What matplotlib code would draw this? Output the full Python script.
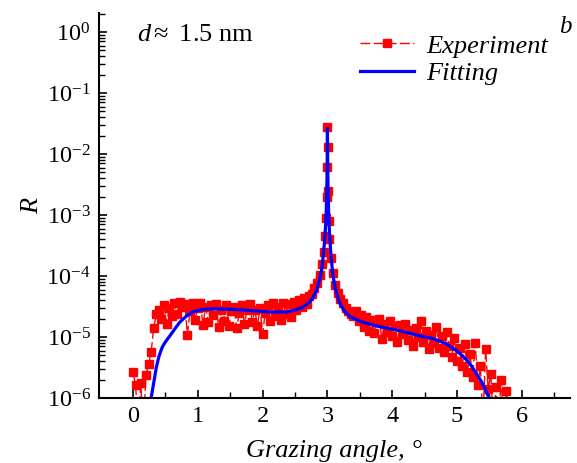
import numpy as np
import matplotlib.pyplot as plt

plt.rcParams['font.family'] = 'Liberation Serif'
plt.rcParams['mathtext.fontset'] = 'custom'
plt.rcParams['mathtext.rm'] = 'Liberation Serif'
plt.rcParams['mathtext.it'] = 'Liberation Serif:italic'

# measured reflectivity, log10(R); low-angle part on a 0.04 deg grid
exp_lo = [-5.58, -5.78, -6.5, -5.76, -6.5, -5.62, -5.45, -5.25, -4.85, -4.62,
          -4.55, -4.70, -4.48, -4.78, -4.52, -4.66, -4.45, -4.62, -4.42, -4.50,
          -4.46, -4.96, -4.58, -4.45, -4.72, -4.52, -4.44, -4.80, -4.50, -4.76,
          -4.48, -4.64, -4.46, -4.84, -4.55, -4.74, -4.47, -4.82, -4.58, -4.50,
          -4.86, -4.60, -4.48, -4.78, -4.56, -4.46, -4.76, -4.55, -4.82, -4.52,
          -4.95, -4.60, -4.48, -4.74, -4.45, -4.66, -4.50, -4.72, -4.44, -4.62,
          -4.46, -4.68, -4.42, -4.56, -4.40, -4.50, -4.36, -4.46, -4.32, -4.30,
          -4.20, -4.12, -3.98, -3.80]
# fine steps around the Bragg peak
exp_pk_x = [2.95, 2.97, 2.98, 2.99, 2.995, 3.0, 3.005, 3.01, 3.02, 3.03, 3.05]
exp_pk = [-3.60, -3.35, -3.05, -2.70, -2.22, -1.55, -1.88, -2.60, -3.10, -3.40, -3.70]
# high-angle part, 0.04 deg grid from 3.08
exp_hi = [-3.95, -4.15, -4.28, -4.38, -4.45, -4.52, -4.58, -4.62, -4.66, -4.58,
          -4.74, -4.64, -4.84, -4.68, -4.90, -4.72, -4.94, -4.76, -4.70, -5.04,
          -4.78, -4.92, -4.74, -4.98, -4.82, -5.08, -4.80, -4.95, -4.78, -5.05,
          -4.88, -5.14, -4.85, -5.00, -4.74, -5.08, -4.90, -5.20, -4.96, -5.10,
          -4.84, -5.18, -4.98, -5.25, -4.92, -5.14, -5.32, -5.02, -5.40, -5.18,
          -5.48, -5.12, -5.58, -5.28, -5.66, -5.10, -5.78, -5.48, -6.40, -5.20,
          -5.85, -5.60, -6.40, -5.82, -6.40, -5.70, -6.40, -5.88, -6.40]

# model curve
fit_x = [0.28, 0.32, 0.36, 0.40, 0.45, 0.50, 0.57, 0.65, 0.72, 0.82, 0.92,
         1.03, 1.14, 1.34, 1.60, 1.85, 2.10, 2.37, 2.50, 2.62, 2.70, 2.77,
         2.83, 2.88, 2.91, 2.93, 2.95, 2.97, 2.98, 2.99, 2.995, 3.0, 3.005,
         3.01, 3.02, 3.03, 3.05, 3.08, 3.12, 3.18, 3.25, 3.34, 3.50, 3.65,
         3.80, 4.00, 4.20, 4.42, 4.60, 4.72, 4.82, 4.92, 5.03, 5.14, 5.22,
         5.29, 5.37, 5.44, 5.49, 5.52]
fit_lg = [-6.0, -5.75, -5.50, -5.32, -5.17, -5.08, -4.98, -4.86, -4.76, -4.66,
          -4.59, -4.56, -4.54, -4.54, -4.55, -4.57, -4.59, -4.59, -4.56, -4.51,
          -4.45, -4.37, -4.24, -4.06, -3.90, -3.72, -3.50, -3.20, -2.98, -2.60,
          -2.25, -1.58, -2.25, -2.60, -3.00, -3.25, -3.60, -3.95, -4.20, -4.42,
          -4.56, -4.66, -4.74, -4.79, -4.83, -4.87, -4.92, -4.98, -5.02, -5.06,
          -5.11, -5.17, -5.26, -5.37, -5.47, -5.59, -5.72, -5.87, -5.99, -6.10]

x_exp = np.concatenate([np.round(0.04 * np.arange(len(exp_lo)), 3),
                        exp_pk_x,
                        np.round(3.08 + 0.04 * np.arange(len(exp_hi)), 3)])
r_exp = 10.0 ** np.array(exp_lo + exp_pk + exp_hi)
r_fit = 10.0 ** np.array(fit_lg)

fig = plt.figure(figsize=(5.77, 4.63), dpi=100)
ax = fig.add_axes([0.1716, 0.1404, 0.816, 0.8315])

ax.plot(x_exp, r_exp, color='red', ls=(0, (7, 2.5)), lw=1.0, marker='s',
        ms=6.3, mec='red', mfc='red', label='Experiment')
ax.plot(fit_x, r_fit, color='blue', lw=2.3, label='Fitting')

ax.set_yscale('log')
ax.set_ylim(1e-6, 2.05)
ax.set_xlim(-0.524, 6.74)
ax.set_xticks([0, 1, 2, 3, 4, 5, 6])
ax.set_xticks(np.arange(0.5, 6.6, 1.0), minor=True)
ax.set_yticks([1e-6, 1e-5, 1e-4, 1e-3, 1e-2, 1e-1, 1e0])

for side in ['top', 'right']:
    ax.spines[side].set_visible(False)
for side in ['left', 'bottom']:
    ax.spines[side].set_linewidth(1.5)
ax.tick_params(which='major', direction='in', length=6, width=1.2, labelsize=17.5, pad=6)
ax.tick_params(which='minor', direction='in', length=4, width=1.0)

ax.set_xlabel('Grazing angle, °', fontsize=19, style='italic', labelpad=9)
ax.set_ylabel('R', fontsize=19, style='italic', labelpad=2)

ax.text(0.08, 0.943, r'$d \approx$ 1.5 nm', transform=ax.transAxes,
        fontsize=19, va='center', ha='left')
fig.text(0.979, 0.942, 'b', fontsize=18, style='italic', ha='center', va='center')

leg = ax.legend(loc='upper left', bbox_to_anchor=(0.555, 0.945), frameon=False,
                prop={'size': 19, 'style': 'italic'}, handlelength=2.05,
                handletextpad=0.45, labelspacing=0.15, borderaxespad=0.0,
                borderpad=0.0)

fig.savefig('out.png', dpi=100)
